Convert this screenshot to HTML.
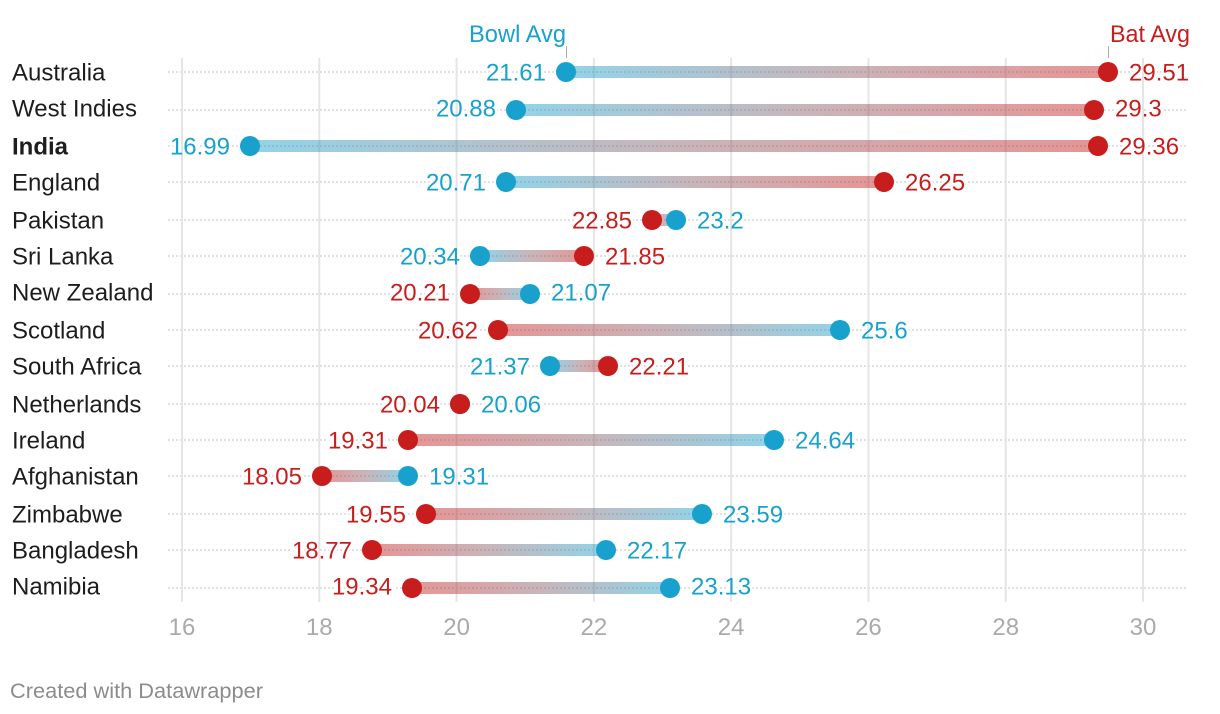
<!DOCTYPE html>
<html lang="en">
<head>
<meta charset="utf-8">
<title>Bat Avg vs Bowl Avg</title>
<style>
html,body{margin:0;padding:0;background:#fff;width:1220px;height:714px;overflow:hidden}
svg{display:block}
text{font-family:"Liberation Sans",Arial,sans-serif;font-size:24px}
</style>
</head>
<body>
<svg id="chart" xmlns="http://www.w3.org/2000/svg" width="1220" height="714" viewBox="0 0 1220 714">
<defs id="gradients"></defs>
<g id="dotted"></g>
<g id="halos"></g>
<g id="grid"></g>
<g id="bars"></g>
<g id="dots"></g>
<g id="values"></g>
<g id="rows"></g>
<g id="ticks"></g>
<g>
<text x="469" y="42" textLength="97" lengthAdjust="spacingAndGlyphs" fill="#18a1cd">Bowl Avg</text>
<line x1="566.5" x2="566.5" y1="46" y2="58" stroke="#aaa" stroke-width="1"/>
<text x="1110" y="42" textLength="80" lengthAdjust="spacingAndGlyphs" fill="#c71e1d">Bat Avg</text>
<line x1="1108.5" x2="1108.5" y1="46" y2="58" stroke="#aaa" stroke-width="1"/>
</g>
<text x="10" y="698" fill="#8c8c8c" style="font-size:21px" textLength="253" lengthAdjust="spacingAndGlyphs">Created with Datawrapper</text>
</svg>
<script>
const teams = ["Australia","West Indies","India","England","Pakistan","Sri Lanka","New Zealand","Scotland","South Africa","Netherlands","Ireland","Afghanistan","Zimbabwe","Bangladesh","Namibia"];
const bowlAvg = [21.61,20.88,16.99,20.71,23.2,20.34,21.07,25.6,21.37,20.06,24.64,19.31,23.59,22.17,23.13];
const batAvg = [29.51,29.3,29.36,26.25,22.85,21.85,20.21,20.62,22.21,20.04,19.31,18.05,19.55,18.77,19.34];
const xTicks = [16,18,20,22,24,26,28,30];

const BLUE = "#18a1cd", RED = "#c71e1d", MID = "#8a626d";
const NS = "http://www.w3.org/2000/svg";
const xScale = v => 182 + (v - 16) * (1143 - 182) / 14;
const markX = v => 2 * Math.round((182 + (v - 16) * 68.58) / 2);
const dotY = i => 72 + 2 * Math.round(18.38 * i + 0.25);
const labelY = i => 72 + 2 * Math.round(18.39 * i);
const byId = id => document.getElementById(id);
function make(tag, parent, props) {
  const el = document.createElementNS(NS, tag);
  for (const k in props) el.setAttribute(k, props[k]);
  parent.appendChild(el);
  return el;
}

xTicks.forEach(t => {
  const x = xScale(t);
  const line = make("line", byId("grid"), {x1:x, x2:x, y1:58, y2:602, stroke:"#e5e5e5", "stroke-width":2});
  
  
  const label = make("text", byId("ticks"), {x:x, y:635, "text-anchor":"middle", fill:"#aaaaaa"});
  label.textContent = t;
  
  
});

function valueLabel(value, color, side, dotX, y) {
  const x = side === "left" ? dotX - 20 : dotX + 21;
  const anchor = side === "left" ? "end" : "start";
  const halo = make("text", byId("halos"), {x:x, y:y + 8.5, "text-anchor":anchor, fill:"#fff", stroke:"#fff", "stroke-width":5});
  halo.textContent = value;
  
  
  const label = make("text", byId("values"), {x:x, y:y + 8.5, "text-anchor":anchor, fill:color});
  label.textContent = value;
  
  
}

teams.forEach((team, i) => {
  const y = dotY(i), ly = labelY(i);
  const xb = markX(bowlAvg[i]), xr = markX(batAvg[i]);

  const guide = make("line", byId("dotted"), {x1:168, x2:1187, y1:y, y2:y, stroke:"#e0e0e0", "stroke-width":2, "stroke-dasharray":"2 2"});
  
  

  const name = make("text", byId("rows"), {x:12, y:ly + 8.5, fill:"#1d1d1d", "font-weight":team === "India" ? "700" : "400"});
  name.textContent = team;
  
  

  const gradId = "range-" + i;
  const grad = make("linearGradient", byId("gradients"), {id:gradId, gradientUnits:"userSpaceOnUse", x1:xb, x2:xr === xb ? xb + 1 : xr, y1:y, y2:y});
  make("stop", grad, {offset:"0%", "stop-color":BLUE});
  make("stop", grad, {offset:"50%", "stop-color":MID});
  make("stop", grad, {offset:"100%", "stop-color":RED});

  const left = Math.min(xb, xr), width = Math.abs(xr - xb);
  const bar = make("rect", byId("bars"), {x:left, y:y - 6, width:width, height:12, fill:"url(#" + gradId + ")", opacity:0.47});
  
  

  const bowlDot = make("circle", byId("dots"), {cx:xb, cy:y, r:10, fill:BLUE});
  
  
  const batDot = make("circle", byId("dots"), {cx:xr, cy:y, r:10, fill:RED});
  
  

  const bowlSide = bowlAvg[i] < batAvg[i] ? "left" : "right";
  const batSide = bowlSide === "left" ? "right" : "left";
  valueLabel(bowlAvg[i], BLUE, bowlSide, xb, ly);
  valueLabel(batAvg[i], RED, batSide, xr, ly);
});
</script>
</body>
</html>
